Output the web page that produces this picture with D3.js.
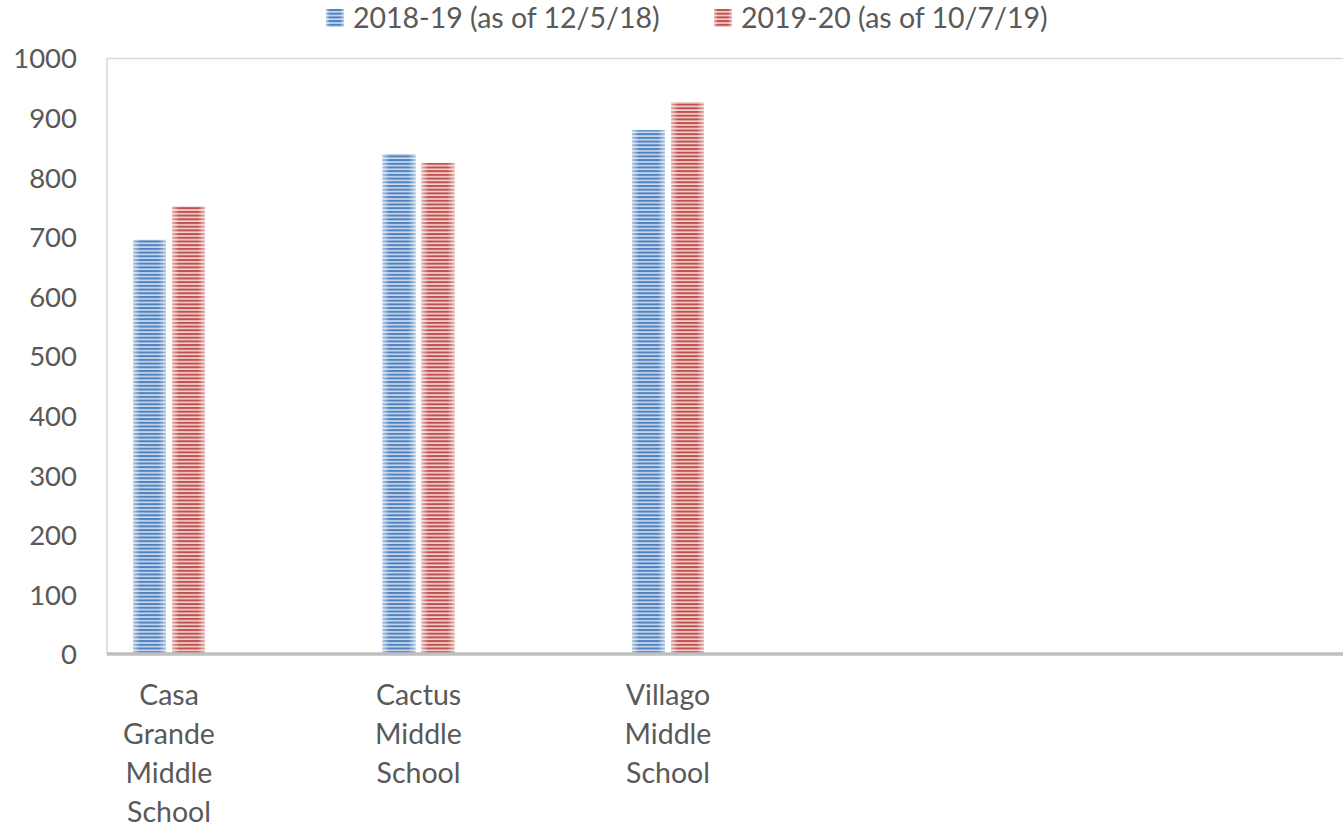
<!DOCTYPE html>
<html>
<head>
<meta charset="utf-8">
<script src="https://cdn.jsdelivr.net/npm/d3@7"></script>
<style>
html,body{margin:0;padding:0;background:#fff;}
svg{display:block;font-family:Lato, "Open Sans", sans-serif;}
</style>
</head>
<body>
<svg id="chart" width="1343" height="824"></svg>
<script>
const categories = ["Casa Grande Middle School", "Cactus Middle School", "Villago Middle School"];
const seriesNames = ["2018-19 (as of 12/5/18)", "2019-20 (as of 10/7/19)"];
const values2018 = [695, 839, 879];
const values2019 = [751, 824, 926];
const yTicks = [0, 100, 200, 300, 400, 500, 600, 700, 800, 900, 1000];

const seriesValues = [values2018, values2019];
const seriesDark = ["#4f81bd", "#c0504d"];
const seriesLight = ["#c9d9ef", "#f2d2d1"];

const svg = d3.select("#chart");
const plotLeft = 107, plotRight = 1343, plotTop = 58, plotBottom = 654;

const y = d3.scaleLinear().domain([0, 1000]).range([plotBottom, plotTop]);
const step = 249.5;
const x0 = d3.scaleBand().domain(categories).range([169 - step / 2, 169 - step / 2 + step * categories.length]).padding(0);
const groupW = 72;
const x1 = d3.scaleBand().domain(seriesNames)
  .range([(step - groupW) / 2, (step + groupW) / 2]).paddingInner(0.154).paddingOuter(0);

// defs: stripe patterns + edge gradient
const defs = svg.append("defs");
seriesNames.forEach((s, i) => {
  const p = defs.append("pattern").attr("id", "pat" + i)
    .attr("patternUnits", "userSpaceOnUse").attr("width", 8).attr("height", 3.7);
  p.append("rect").attr("width", 8).attr("height", 3.7).attr("fill", seriesLight[i]);
  p.append("rect").attr("y", 0).attr("width", 8).attr("height", 2).attr("fill", seriesDark[i]);
});
const g = defs.append("linearGradient").attr("id", "edge").attr("x1", 0).attr("x2", 1).attr("y1", 0).attr("y2", 0);
g.append("stop").attr("offset", "0%").attr("stop-color", "#fff").attr("stop-opacity", 0.55);
g.append("stop").attr("offset", "22%").attr("stop-color", "#fff").attr("stop-opacity", 0);
g.append("stop").attr("offset", "78%").attr("stop-color", "#fff").attr("stop-opacity", 0);
g.append("stop").attr("offset", "100%").attr("stop-color", "#fff").attr("stop-opacity", 0.55);

// plot frame: top and left light lines
svg.append("line").attr("x1", plotLeft).attr("x2", plotRight).attr("y1", plotTop + 0.5).attr("y2", plotTop + 0.5)
  .attr("stroke", "#d9d9d9").attr("stroke-width", 1.5);
svg.append("line").attr("x1", plotLeft).attr("x2", plotLeft).attr("y1", plotTop).attr("y2", plotBottom)
  .attr("stroke", "#d9d9d9").attr("stroke-width", 1.5);

// Y axis labels
const yAxis = d3.axisLeft(y).tickValues(yTicks).tickSize(0).tickPadding(0).tickFormat(d3.format("d"));
const ya = svg.append("g").attr("transform", "translate(77,0)").call(yAxis);
ya.select(".domain").remove();
ya.selectAll("text").attr("font-family", "Lato, 'Open Sans', sans-serif").attr("font-size", 27.5)
  .attr("fill", "#595959").attr("dy", "0.36em");

// Bars
const groups = svg.append("g").selectAll("g").data(categories).join("g")
  .attr("transform", d => `translate(${x0(d)},0)`);
seriesNames.forEach((s, si) => {
  groups.append("rect")
    .attr("x", x1(s)).attr("width", x1.bandwidth())
    .attr("y", (d, ci) => y(seriesValues[si][ci]))
    .attr("height", (d, ci) => plotBottom - y(seriesValues[si][ci]))
    .attr("fill", `url(#pat${si})`);
  groups.append("rect")
    .attr("x", x1(s)).attr("width", x1.bandwidth())
    .attr("y", (d, ci) => y(seriesValues[si][ci]))
    .attr("height", (d, ci) => plotBottom - y(seriesValues[si][ci]))
    .attr("fill", "url(#edge)");
});

// X axis line
svg.append("line").attr("x1", plotLeft).attr("x2", plotRight).attr("y1", plotBottom).attr("y2", plotBottom)
  .attr("stroke", "#bfbfbf").attr("stroke-width", 3.5);

// Category labels (wrapped per word)
const xa = svg.append("g").attr("transform", `translate(0,${plotBottom})`)
  .call(d3.axisBottom(x0).tickSize(0).tickFormat(""));
xa.select(".domain").remove();
xa.selectAll(".tick").each(function(d) {
  const t = d3.select(this).append("text").attr("text-anchor", "middle")
    .attr("font-family", "Lato, 'Open Sans', sans-serif").attr("font-size", 28.5).attr("fill", "#595959");
  d.split(" ").forEach((w, i) => {
    t.append("tspan").attr("x", 0).attr("y", 51 + i * 39).text(w);
  });
});

// Legend
const legendX = [326, 714];
seriesNames.forEach((s, i) => {
  const lg = svg.append("g").attr("transform", `translate(${legendX[i]},9)`);
  lg.append("rect").attr("width", 18).attr("height", 18).attr("fill", `url(#pat${i})`);
  lg.append("rect").attr("width", 18).attr("height", 18).attr("fill", "url(#edge)");
  lg.append("text").attr("x", 27).attr("y", 9).attr("dy", "0.36em")
    .attr("font-size", 28.5).attr("fill", "#595959").text(s);
});
</script>
</body>
</html>
